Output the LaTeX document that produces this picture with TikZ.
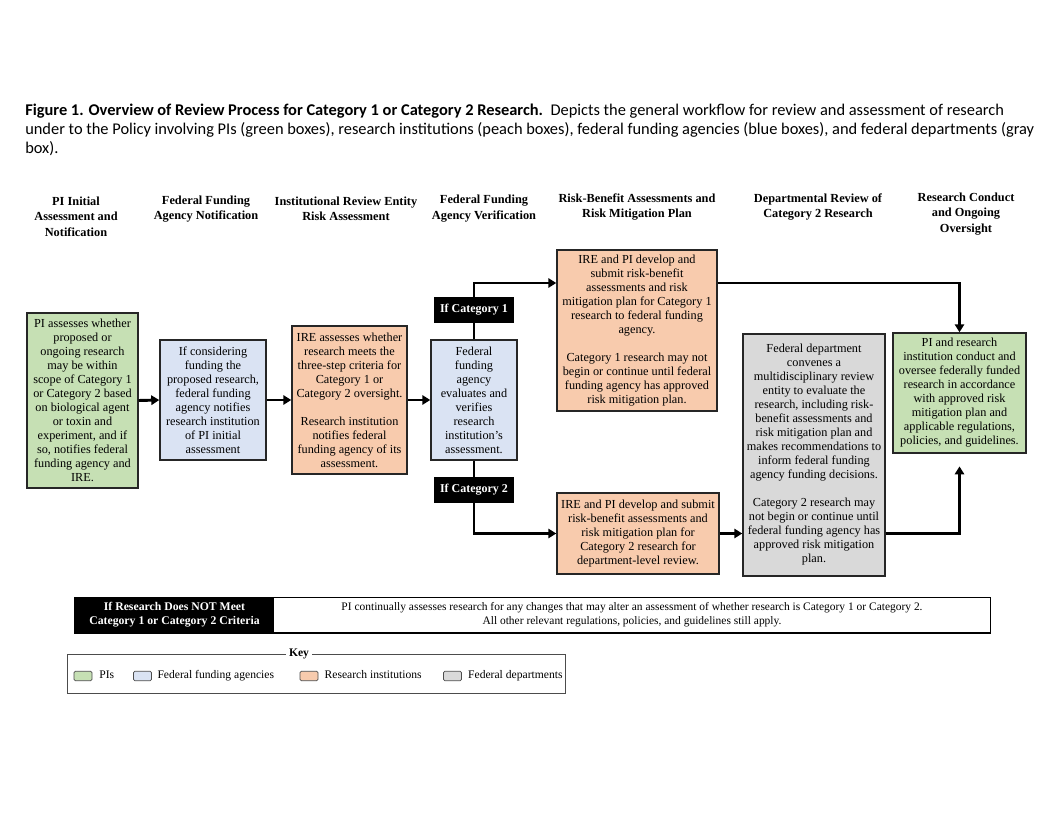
\documentclass[tikz,border=0pt]{standalone}
\usepackage{fontspec}
\setmainfont{Liberation Serif}
\newfontfamily\captionfont{Carlito}
\usetikzlibrary{arrows.meta,positioning}
\definecolor{pigreen}{HTML}{C6E0B4}
\definecolor{agencyblue}{HTML}{DAE3F3}
\definecolor{instpeach}{HTML}{F8CBAD}
\definecolor{deptgray}{HTML}{D9D9D9}
\tikzset{
  box/.style={draw=black!85, line width=1.1pt, align=center, inner sep=1pt,
    font=\fontsize{9.2}{10.5}\selectfont},
  pibox/.style={box, fill=pigreen},
  agencybox/.style={box, fill=agencyblue},
  instbox/.style={box, fill=instpeach},
  deptbox/.style={box, fill=deptgray},
  header/.style={align=center, font=\bfseries\fontsize{9.25}{11.6}\selectfont},
  catlabel/.style={fill=black, text=white, minimum width=60pt, minimum height=19.5pt,
    font=\bfseries\fontsize{9}{10}\selectfont},
  flow/.style={line width=2.2pt, -{Triangle[length=6pt,width=7pt]}},
  link/.style={line width=2.2pt},
  keyswatch/.style={draw=black!70, line width=0.6pt, rounded corners=1pt,
    minimum width=13.5pt, minimum height=7pt, inner sep=0pt},
  keytext/.style={font=\fontsize{8.7}{10}\selectfont, inner sep=0pt, text height=6pt, text depth=2pt}
}
\begin{document}
\begin{tikzpicture}[x=0.75pt, y=-0.75pt]
  \fill[white] (0,0) rectangle (1056,816);
  \useasboundingbox (0,0) rectangle (1056,816);
  \node[anchor=north west, align=left, inner sep=0pt, font=\captionfont\fontsize{12.3}{14.25}\selectfont] (caption) at (25,104)
    {\textbf{Figure 1. Overview of Review Process for Category 1 or Category 2 Research.}\ \ Depicts the general workflow for review and assessment of research\\
     under to the Policy involving PIs (green boxes), research institutions (peach boxes), federal funding agencies (blue boxes), and federal departments (gray\\
     box).};

  \node[header] (hdpi) at (76,216.5) {PI Initial\\Assessment and\\Notification};
  \node[header] (hdnotif) at (206,209) {Federal Funding\\Agency Notification};
  \node[header] (hdire) at (346,209) {Institutional Review Entity\\Risk Assessment};
  \node[header] (hdverif) at (484,208.5) {Federal Funding\\Agency Verification};
  \node[header] (hdrisk) at (637,207) {Risk-Benefit Assessments and\\Risk Mitigation Plan};
  \node[header] (hddept) at (818,207) {Departmental Review of\\Category 2 Research};
  \node[header] (hdconduct) at (966,214) {Research Conduct\\and Ongoing\\Oversight};

  \node[pibox, minimum width=83.25pt, minimum height=131.25pt] (pi) at (82.5,400.5)
    {PI assesses whether\\proposed or\\ongoing research\\may be within\\scope of Category 1\\or Category 2 based\\on biological agent\\or toxin and\\experiment, and if\\so, notifies federal\\funding agency and\\IRE.};
  \node[agencybox, minimum width=79.5pt, minimum height=90pt] (notif) at (213,400)
    {If considering\\funding the\\proposed research,\\federal funding\\agency notifies\\research institution\\of PI initial\\assessment};
  \node[instbox, minimum width=86.25pt, minimum height=111pt] (ire) at (349.5,400)
    {IRE assesses whether\\research meets the\\three-step criteria for\\Category 1 or\\Category 2 oversight.\\[10.5pt]Research institution\\notifies federal\\funding agency of its\\assessment.};
  \node[agencybox, minimum width=64.5pt, minimum height=90pt] (verif) at (474,400)
    {Federal\\funding\\agency\\evaluates and\\verifies\\research\\institution's\\assessment.};
  \node[catlabel] (c1lab) at (474,310) {If Category 1};
  \node[catlabel] (c2lab) at (474,490) {If Category 2};
  \node[instbox, minimum width=120pt, minimum height=120.75pt] (cat1) at (637,330.5)
    {IRE and PI develop and\\submit risk-benefit\\assessments and risk\\mitigation plan for Category 1\\research to federal funding\\agency.\\[10.5pt]Category 1 research may not\\begin or continue until federal\\funding agency has approved\\risk mitigation plan.};
  \node[instbox, minimum width=121.5pt, minimum height=60.75pt] (cat2) at (638,533.5)
    {IRE and PI develop and submit\\risk-benefit assessments and\\risk mitigation plan for\\Category 2 research for\\department-level review.};
  \node[deptbox, minimum width=106.5pt, minimum height=181.5pt] (dept) at (814,455)
    {Federal department\\convenes a\\multidisciplinary review\\entity to evaluate the\\research, including risk-\\benefit assessments and\\risk mitigation plan and\\makes recommendations to\\inform federal funding\\agency funding decisions.\\[10.5pt]Category 2 research may\\not begin or continue until\\federal funding agency has\\approved risk mitigation\\plan.};
  \node[pibox, minimum width=99.75pt, minimum height=90pt] (conduct) at (959.5,393)
    {PI and research\\institution conduct and\\oversee federally funded\\research in accordance\\with approved risk\\mitigation plan and\\applicable regulations,\\policies, and guidelines.};
  \coordinate (uprow) at (0,283);

  \draw[flow] (pi.east) -- (notif.west);
  \draw[flow] (notif.east) -- (ire.west);
  \draw[flow] (ire.east) -- (verif.west);
  \draw[link] (verif.north) -- (c1lab.south);
  \draw[flow] (c1lab.north) |- (cat1.west |- uprow);
  \draw[link] (verif.south) -- (c2lab.north);
  \draw[flow] (c2lab.south) |- (cat2.west);
  \draw[flow] (cat2.east) -- (cat2 -| dept.west);
  \draw[flow] (cat1.east |- uprow) -| (conduct.north);
  \draw[flow, shorten >=9.5pt] (cat2 -| dept.east) -| (conduct.south);

  \node[fill=black, text=white, align=center, minimum width=149.25pt, minimum height=26.25pt, inner sep=0pt,
    font=\bfseries\fontsize{8.8}{10.5}\selectfont] (notmet) at (174.5,615)
    {If Research Does NOT Meet\\Category 1 or Category 2 Criteria};
  \node[align=center, minimum width=537pt, minimum height=26.25pt, inner sep=0pt,
    font=\fontsize{8.6}{10.5}\selectfont] (ongoing) at (632,615)
    {PI continually assesses research for any changes that may alter an assessment of whether research is Category 1 or Category 2.\\
     All other relevant regulations, policies, and guidelines still apply.};
  \draw[line width=1.1pt] (notmet.north west) rectangle (ongoing.south east);

  \draw[black!70, line width=0.6pt] (67,654) rectangle (565,693);
  \node[fill=white, inner sep=2pt, font=\bfseries\fontsize{8.7}{10}\selectfont] (key) at (299,654) {Key};
  \node[keyswatch, fill=pigreen] (keypi) at (83,676) {};
  \node[keytext, right=5pt of keypi] (keypitext) {PIs};
  \node[keyswatch, fill=agencyblue] (keyagency) at (142.5,676) {};
  \node[keytext, right=4pt of keyagency] (keyagencytext) {Federal funding agencies};
  \node[keyswatch, fill=instpeach] (keyinst) at (309,676) {};
  \node[keytext, right=4.5pt of keyinst] (keyinsttext) {Research institutions};
  \node[keyswatch, fill=deptgray] (keydept) at (452.5,676) {};
  \node[keytext, right=4.5pt of keydept] (keydepttext) {Federal departments};
\end{tikzpicture}
\end{document}
